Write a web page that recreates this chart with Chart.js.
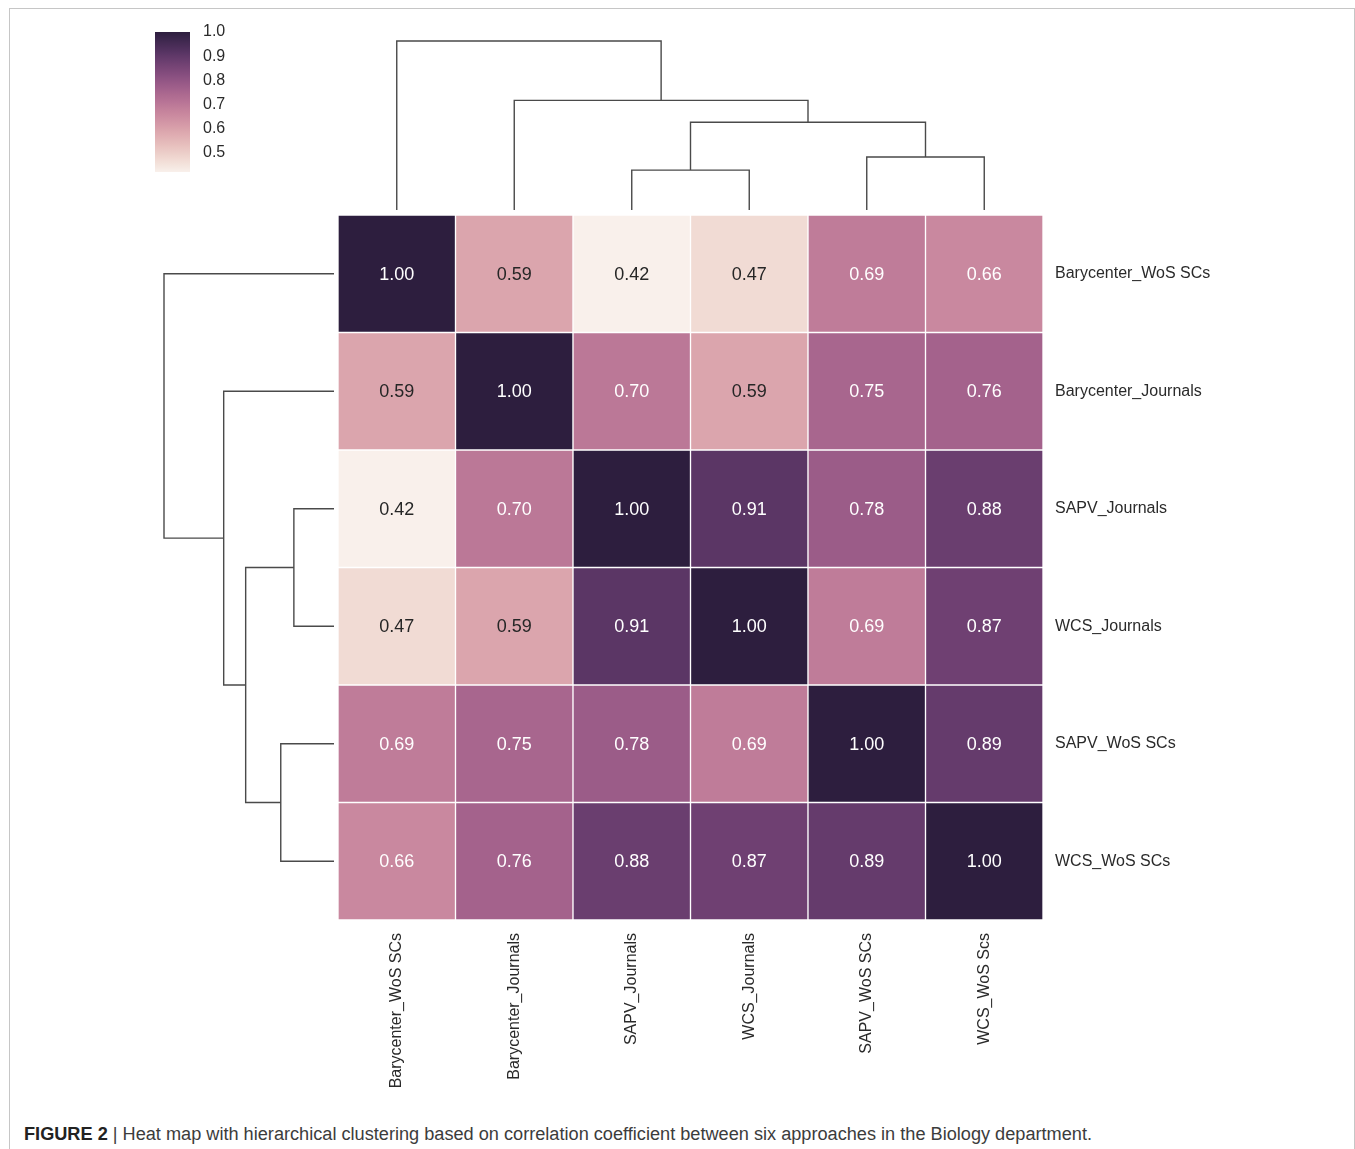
<!DOCTYPE html>
<html>
<head>
<meta charset="utf-8">
<script src="https://cdn.jsdelivr.net/npm/chart.js@4.4.1/dist/chart.umd.min.js"></script>
<style>
  html, body { margin: 0; padding: 0; background: #fff; }
  body { width: 1355px; height: 1149px; position: relative; overflow: hidden;
         font-family: "Liberation Sans", Arial, sans-serif; }
  .frame { position: absolute; left: 9px; top: 8px; width: 1346px; height: 1200px;
           border: 1px solid #c6c6c6; border-bottom: none; box-sizing: border-box; }
  canvas { position: absolute; }
  #caption { position: absolute; left: 24px; top: 1124px; font-size: 18px; color: #3c3c3c;
             white-space: nowrap; transform-origin: 0 0; }
  #caption b { color: #222; }
</style>
</head>
<body>
<div class="frame"></div>
<canvas id="cbar" width="110" height="165" style="left:155px; top:20px"></canvas>
<canvas id="topTree" width="705" height="173" style="left:338px; top:39px"></canvas>
<canvas id="leftTree" width="172" height="705" style="left:162px; top:215px"></canvas>
<canvas id="heat" width="955" height="895" style="left:338px; top:215px"></canvas>
<div id="caption"><b>FIGURE 2</b> | Heat map with hierarchical clustering based on correlation coefficient between six approaches in the Biology department.</div>

<script>
// Etiquetas (ya en el orden del clustering)
const rowLabels = ['Barycenter_WoS SCs', 'Barycenter_Journals', 'SAPV_Journals', 'WCS_Journals', 'SAPV_WoS SCs', 'WCS_WoS SCs'];
const colLabels = ['Barycenter_WoS SCs', 'Barycenter_Journals', 'SAPV_Journals', 'WCS_Journals', 'SAPV_WoS SCs', 'WCS_WoS Scs'];

// Matriz de correlación, una fila por método
const rowBarycenterWoS = [1.00, 0.59, 0.42, 0.47, 0.69, 0.66];
const rowBarycenterJournals = [0.59, 1.00, 0.70, 0.59, 0.75, 0.76];
const rowSapvJournals = [0.42, 0.70, 1.00, 0.91, 0.78, 0.88];
const rowWcsJournals = [0.47, 0.59, 0.91, 1.00, 0.69, 0.87];
const rowSapvWoS = [0.69, 0.75, 0.78, 0.69, 1.00, 0.89];
const rowWcsWoS = [0.66, 0.76, 0.88, 0.87, 0.89, 1.00];
const matrix = [rowBarycenterWoS, rowBarycenterJournals, rowSapvJournals, rowWcsJournals, rowSapvWoS, rowWcsWoS];

// Uniones del dendrograma (hojas 0-5, clusters 6+), alturas
const mergeLeft = [2, 4, 6, 1, 0];
const mergeRight = [3, 5, 7, 8, 9];
const mergeHeight = [0.199, 0.264, 0.438, 0.547, 0.843];

// Marcas de la barra de color
const cbarTicks = [0.5, 0.6, 0.7, 0.8, 0.9, 1.0];

const vmin = Math.min(...matrix.flat());
const vmax = Math.max(...matrix.flat());

Chart.defaults.font.family = '"Liberation Sans", Arial, sans-serif';
Chart.defaults.color = '#2a2a2a';
Chart.defaults.animation = false;

// Paleta cubehelix (estilo seaborn), clara -> oscura
function cubehelix(x) {
    const start = 0, rot = 0.4, hue = 0.8;
    const a = hue * x * (1 - x) / 2;
    const phi = 2 * Math.PI * (start / 3 + rot * x);
    const c = (p0, p1) => Math.min(1, Math.max(0, x + a * (p0 * Math.cos(phi) + p1 * Math.sin(phi))));
    return [c(-0.14861, 1.78277), c(-0.29227, -0.90649), c(1.97294, 0)];
}
function rgbFor(v) {
    const t = (v - vmin) / (vmax - vmin);
    return cubehelix(0.95 + (0.15 - 0.95) * t);
}
function cssFor(v) {
    const [r, g, b] = rgbFor(v);
    return 'rgb(' + Math.round(r * 255) + ',' + Math.round(g * 255) + ',' + Math.round(b * 255) + ')';
}
function textColorFor(v) {
    const lin = rgbFor(v).map(c => c <= 0.03928 ? c / 12.92 : Math.pow((c + 0.055) / 1.055, 2.4));
    const lum = 0.2126 * lin[0] + 0.7152 * lin[1] + 0.0722 * lin[2];
    return lum > 0.408 ? '#262626' : '#ffffff';
}

// Quitar el relleno automático que Chart.js reserva para las etiquetas
function noScalePadding(s) {
    s.paddingTop = 0; s.paddingBottom = 0; s.paddingLeft = 0; s.paddingRight = 0;
}

// Segmentos del dendrograma: cada unión es una "U"
function dendroSegments() {
    const pos = [], hgt = [];
    rowLabels.forEach((_, i) => { pos[i] = i + 0.5; hgt[i] = 0; });
    const segs = [];
    mergeHeight.forEach((h, k) => {
        const l = mergeLeft[k], r = mergeRight[k], id = rowLabels.length + k;
        segs.push([[pos[l], hgt[l]], [pos[l], h], [pos[r], h], [pos[r], hgt[r]]]);
        pos[id] = (pos[l] + pos[r]) / 2;
        hgt[id] = h;
    });
    return segs;
}
const segments = dendroSegments();
const treeLine = { showLine: true, pointRadius: 0, borderColor: '#4a4a4a', borderWidth: 1.4, clip: false, fill: false };
const hidden = { display: false };

// Dendrograma superior (columnas)
new Chart(document.getElementById('topTree'), {
    type: 'scatter',
    data: { datasets: segments.map(s => Object.assign({ data: s.map(p => ({ x: p[0], y: p[1] })) }, treeLine)) },
    options: {
        responsive: false,
        layout: { padding: { top: 2, bottom: 2 } },
        plugins: { legend: hidden, tooltip: { enabled: false } },
        scales: {
            x: { type: 'linear', min: 0, max: colLabels.length, display: false },
            y: { type: 'linear', min: 0, max: Math.max(...mergeHeight), display: false }
        }
    }
});

// Dendrograma izquierdo (filas)
new Chart(document.getElementById('leftTree'), {
    type: 'scatter',
    data: { datasets: segments.map(s => Object.assign({ data: s.map(p => ({ x: p[1], y: p[0] })) }, treeLine)) },
    options: {
        responsive: false,
        layout: { padding: { left: 2 } },
        plugins: { legend: hidden, tooltip: { enabled: false } },
        scales: {
            x: { type: 'linear', min: 0, max: Math.max(...mergeHeight), reverse: true, display: false },
            y: { type: 'linear', min: 0, max: rowLabels.length, reverse: true, display: false }
        }
    }
});

// Valores dentro de cada celda
const cellLabels = {
    id: 'cellLabels',
    afterDatasetsDraw(chart) {
        const ctx = chart.ctx;
        ctx.save();
        ctx.font = '18px "Liberation Sans", Arial, sans-serif';
        ctx.textAlign = 'center';
        ctx.textBaseline = 'middle';
        chart.data.datasets.forEach((ds, r) => {
            chart.getDatasetMeta(r).data.forEach((bar, c) => {
                const v = matrix[r][c];
                const p = bar.getCenterPoint();
                ctx.fillStyle = textColorFor(v);
                ctx.fillText(v.toFixed(2), p.x, p.y + 1);
            });
        });
        ctx.restore();
    }
};

// Mapa de calor: una barra flotante por celda
new Chart(document.getElementById('heat'), {
    type: 'bar',
    data: {
        labels: colLabels,
        datasets: matrix.map((row, r) => ({
            data: row.map(() => [r, r + 1]),
            backgroundColor: row.map(cssFor),
            borderColor: '#ffffff',
            borderWidth: 1,
            borderSkipped: false,
            grouped: false,
            barPercentage: 1,
            categoryPercentage: 1
        }))
    },
    options: {
        responsive: false,
        layout: { padding: 0 },
        plugins: { legend: hidden, tooltip: { enabled: false } },
        scales: {
            x: {
                position: 'bottom',
                grid: { display: false, drawTicks: false },
                border: { display: false },
                ticks: { minRotation: 90, maxRotation: 90, padding: 13, font: { size: 16 }, autoSkip: false },
                afterFit(s) { s.height = 190; noScalePadding(s); }
            },
            y: {
                type: 'linear', position: 'right', min: 0, max: rowLabels.length, reverse: true,
                grid: { display: false, drawTicks: false },
                border: { display: false },
                afterBuildTicks(s) { s.ticks = rowLabels.map((_, i) => ({ value: i + 0.5 })); },
                ticks: { padding: 12, font: { size: 16 }, callback: (v, i) => rowLabels[i] },
                afterFit(s) { s.width = 250; noScalePadding(s); }
            }
        }
    },
    plugins: [cellLabels]
});

// Barra de color
new Chart(document.getElementById('cbar'), {
    type: 'bar',
    data: {
        labels: [''],
        datasets: [{
            data: [[vmin, vmax]],
            barPercentage: 1,
            categoryPercentage: 1,
            borderWidth: 0,
            backgroundColor(context) {
                const chart = context.chart;
                if (!chart.chartArea) return null;
                const ys = chart.scales.y;
                const g = chart.ctx.createLinearGradient(0, ys.getPixelForValue(vmin), 0, ys.getPixelForValue(vmax));
                for (let i = 0; i <= 40; i++) {
                    g.addColorStop(i / 40, cssFor(vmin + (vmax - vmin) * i / 40));
                }
                return g;
            }
        }]
    },
    options: {
        responsive: false,
        layout: { padding: { top: 12, bottom: 13 } },
        plugins: { legend: hidden, tooltip: { enabled: false } },
        scales: {
            x: { display: false },
            y: {
                type: 'linear', position: 'right', min: vmin, max: vmax,
                grid: { display: false, drawTicks: false },
                border: { display: false },
                afterBuildTicks(s) { s.ticks = cbarTicks.map(v => ({ value: v })); },
                ticks: { padding: 13, font: { size: 16 }, callback: v => v.toFixed(1) },
                afterFit(s) { s.width = 75; noScalePadding(s); }
            }
        }
    }
});

// Ajustar el pie de figura al ancho del original
const cap = document.getElementById('caption');
cap.style.transform = 'scaleX(' + (1068 / cap.getBoundingClientRect().width) + ')';
</script>
</body>
</html>
